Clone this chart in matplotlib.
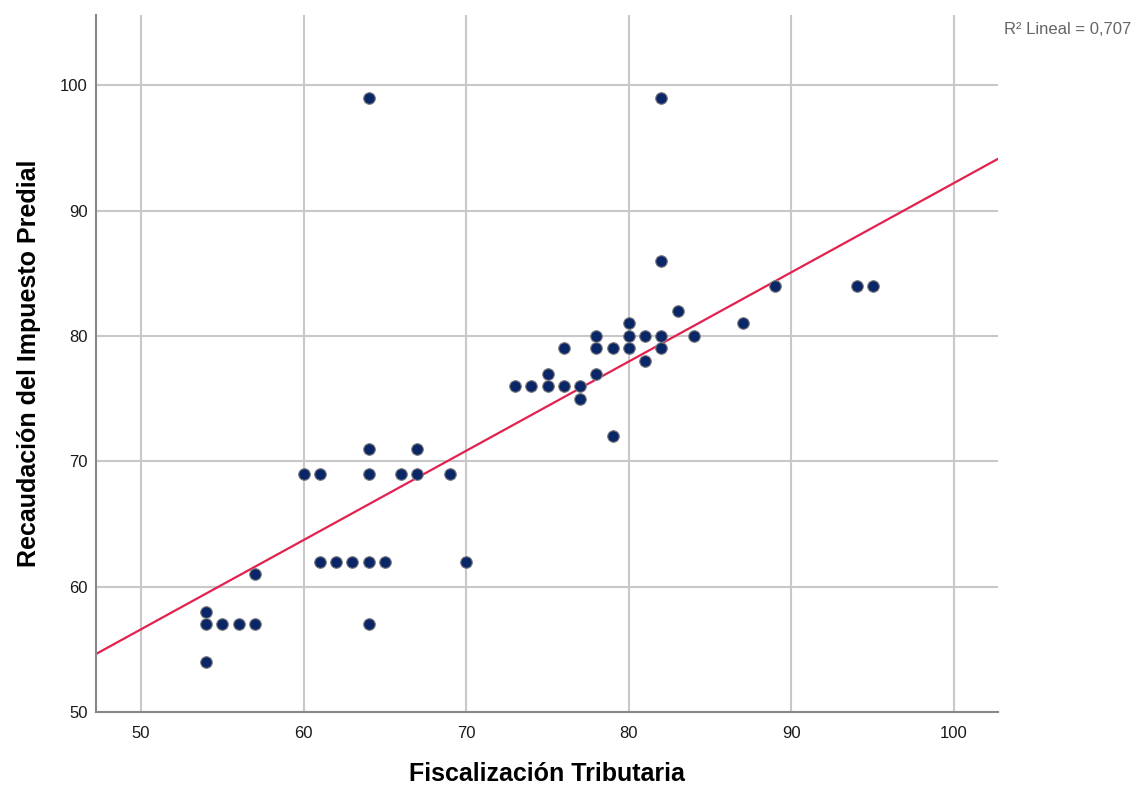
import numpy as np
import matplotlib.pyplot as plt

plt.rcParams['font.family'] = ['Liberation Sans', 'DejaVu Sans']

# Fiscalización Tributaria (x) vs Recaudación del Impuesto Predial (y)
fiscalizacion = [64, 82, 82, 89, 94, 95, 83, 80, 87,
                 78, 80, 81, 82, 84, 76, 78, 79, 80, 82, 81,
                 75, 78, 73, 74, 75, 76, 77, 77, 79,
                 64, 67, 60, 61, 64, 66, 67, 69,
                 61, 62, 63, 64, 65, 70, 57, 54,
                 54, 55, 56, 57, 64, 54]
recaudacion = [99, 99, 86, 84, 84, 84, 82, 81, 81,
               80, 80, 80, 80, 80, 79, 79, 79, 79, 79, 78,
               77, 77, 76, 76, 76, 76, 76, 75, 72,
               71, 71, 69, 69, 69, 69, 69, 69,
               62, 62, 62, 62, 62, 62, 61, 58,
               57, 57, 57, 57, 57, 54]
fit_slope = 0.712
fit_intercept = 21.0
r2_text = 'R² Lineal = 0,707'

x = np.array(fiscalizacion, dtype=float)
y = np.array(recaudacion, dtype=float)

fig = plt.figure(figsize=(11.35, 7.87), dpi=100)
ax = fig.add_axes([0.0846, 0.0953, 0.7947, 0.8857])

xlim = (47.23, 102.7)
ax.set_xlim(xlim)
ax.set_ylim(50, 105.6)

ax.grid(True, color='#c8c8c8', linewidth=1.5)
ax.set_axisbelow(True)

xs = np.array(xlim)
ax.plot(xs, fit_slope * xs + fit_intercept, color='#e3214f', linewidth=1.6, zorder=2)
ax.scatter(x, y, s=70, color='#0b2667', edgecolors='#808080', linewidths=0.8, zorder=3)

ax.set_xticks([50, 60, 70, 80, 90, 100])
ax.set_yticks([50, 60, 70, 80, 90, 100])
ax.tick_params(length=0, labelsize=12, colors='#1a1a1a')
ax.tick_params(axis='x', pad=10)
ax.tick_params(axis='y', pad=6)
for side in ['top', 'right']:
    ax.spines[side].set_visible(False)
for side in ['left', 'bottom']:
    ax.spines[side].set_color('#888888')
    ax.spines[side].set_linewidth(1.5)

ax.set_xlabel('Fiscalización Tributaria', fontsize=18, fontweight='bold', va='center')
ax.set_ylabel('Recaudación del Impuesto Predial', fontsize=18, fontweight='bold', va='center')
ax.xaxis.set_label_coords(0.5, -0.089)
ax.yaxis.set_label_coords(-0.074, 0.5)

fig.text(0.9965, 0.962, r2_text, fontsize=12, color='#666666', ha='right', va='center')

fig.savefig('out.png', dpi=100)
